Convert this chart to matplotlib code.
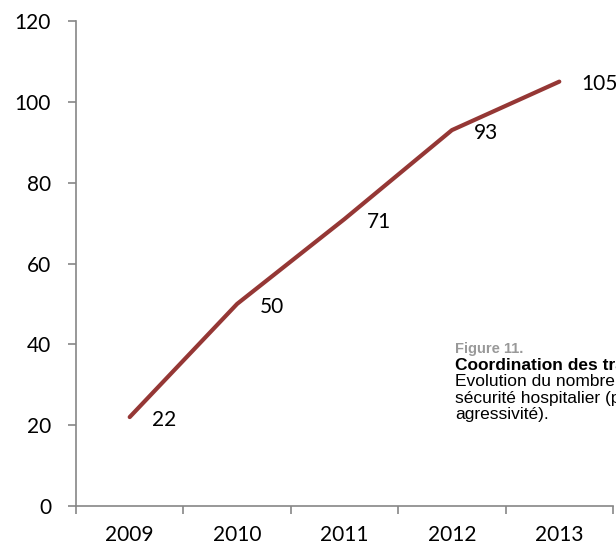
import matplotlib.pyplot as plt
import numpy as np

years = ["2009", "2010", "2011", "2012", "2013"]
values = [22, 50, 71, 93, 105]
yticks = [0, 20, 40, 60, 80, 100, 120]

LINE = "#953735"
AXIS = "#868686"

fig = plt.figure(figsize=(6.16, 5.47), dpi=100)
ax = fig.add_axes([76 / 616, 41 / 547, 537 / 616, 485 / 547])

x = np.arange(len(years))
ax.plot(x, values, color=LINE, linewidth=3, solid_capstyle="round", zorder=3)

# étiquettes de données à droite des points
for xi, v in zip(x, values):
    ax.annotate(str(v), (xi, v), xytext=(16, -2), textcoords="offset points",
                ha="left", va="center", fontsize=15, family="Lato", color="black")

ax.set_xlim(-0.5, len(years) - 0.5)
ax.set_ylim(0, 120)
ax.set_yticks(yticks)
ax.set_yticklabels([str(t) for t in yticks], fontsize=15, family="Lato")
ax.set_xticks(x)
ax.set_xticklabels(years, fontsize=15, family="Lato")
ax.set_xticks(np.arange(len(years) + 1) - 0.5, minor=True)

ax.tick_params(axis="x", which="major", length=0, pad=14)
ax.tick_params(axis="x", which="minor", length=6, color=AXIS, width=1.2, direction="out")
ax.tick_params(axis="y", length=6, color=AXIS, width=1.2, pad=12)

for s in ["top", "right"]:
    ax.spines[s].set_visible(False)
for s in ["left", "bottom"]:
    ax.spines[s].set_color(AXIS)
    ax.spines[s].set_linewidth(1.2)

# légende de la figure (coupée au bord droit comme dans l'original)
fam = ["Liberation Sans Narrow", "Liberation Sans", "DejaVu Sans"]
x0 = 455 / 616
fig.text(x0, 1 - 349 / 547, "Figure 11.", fontsize=10.5, weight="bold",
         color="#999999", family=fam, va="center")
fig.text(x0, 1 - 365 / 547, "Coordination des travailleurs", fontsize=12.5,
         weight="bold", color="black", family=fam, va="center")
fig.text(x0, 1 - 382 / 547, "Evolution du nombre de", fontsize=12.5,
         color="black", family=fam, va="center")
fig.text(x0, 1 - 399 / 547, "sécurité hospitalier (prévention", fontsize=12.5,
         color="black", family=fam, va="center")
fig.text(x0, 1 - 415 / 547, "agressivité).", fontsize=12.5,
         color="black", family=fam, va="center")

fig.savefig("out.png", dpi=100)
